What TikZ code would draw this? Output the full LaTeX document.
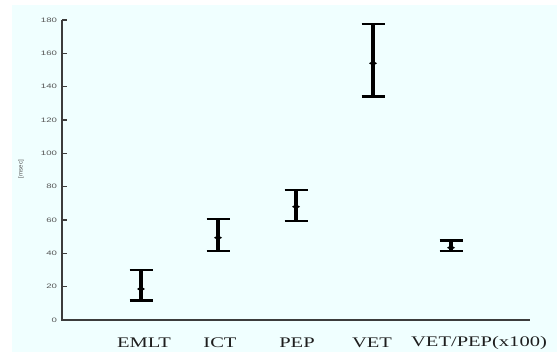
\documentclass[tikz,border=0pt]{standalone}
\usepackage{fontspec}
\newfontfamily\tickfont{Liberation Sans}
\newfontfamily\catfont{Liberation Serif}
\definecolor{plotbg}{RGB}{240,255,255}
\definecolor{axisgray}{RGB}{60,60,60}
\definecolor{ticktext}{RGB}{85,85,85}
\definecolor{cattext}{RGB}{30,30,30}

\tikzset{every picture/.style={line width=0.75pt}}
\tikzset{
  axisline/.style={draw=axisgray, line width=0.8pt},
  ticklabel/.style={anchor=east, inner sep=0pt, text=ticktext, font=\tickfont\fontsize{4.8}{5}\selectfont},
  catlabel/.style={inner sep=0pt, text=cattext, font=\catfont\fontsize{11}{12}\selectfont},
  barline/.style={line width=2.3pt},
  capline/.style={line width=1.9pt},
}

% one error bar: x, top, mean, bottom (pixel units)
\newcommand{\errbar}[4]{%
  \draw[barline] (#1,#2) -- (#1,#4);
  \draw[capline] (#1-11.5,#2) -- (#1+11.5,#2);
  \draw[capline] (#1-11.5,#4) -- (#1+11.5,#4);
  \fill (#1-4,#3) -- (#1,#3-2.5) -- (#1+4,#3) -- (#1,#3+2.5) -- cycle;
}

\begin{document}
\begin{tikzpicture}[x=0.75pt,y=0.75pt,yscale=-1]
\useasboundingbox (0,0) rectangle (557,352);
\fill[plotbg] (12,5) rectangle (557,352);

%Axes
\coordinate (ytop) at (62,20);
\coordinate (origin) at (62,320);
\coordinate (xend) at (530,320);
\draw[axisline] (ytop) -- (origin) -- (xend);

%Ticks and labels
\foreach \v in {0,20,...,180}{
  \draw[axisline] (62,320-\v*5/3) -- (67,320-\v*5/3);
  \node[ticklabel] (tick\v) at (57.5,320-\v*5/3) {\scalebox{1.5}[1]{\v}};
}

% Text Node
\node[rotate=90, inner sep=0pt, text=ticktext, font=\tickfont\fontsize{4.6}{5}\selectfont] (unit) at (21,169) {[msec]};

%Error bars
\errbar{141}{270}{289}{300.7}
\errbar{218}{219}{237.7}{251}
\errbar{296}{190}{206.7}{221}
\errbar{373}{24}{63.3}{96.7}
\errbar{451}{240.7}{247.7}{251}

% Category labels
\node[catlabel] (emlt) at (144,343) {\scalebox{1.4}[1]{EMLT}};
\node[catlabel] (ict) at (220,343) {\scalebox{1.4}[1]{ICT}};
\node[catlabel] (pep) at (297,343) {\scalebox{1.4}[1]{PEP}};
\node[catlabel] (vet) at (372,343) {\scalebox{1.4}[1]{VET}};
\node[catlabel] (ratio) at (479,343) {\scalebox{1.4}[1]{VET/PEP(x100)}};

\end{tikzpicture}
\end{document}
